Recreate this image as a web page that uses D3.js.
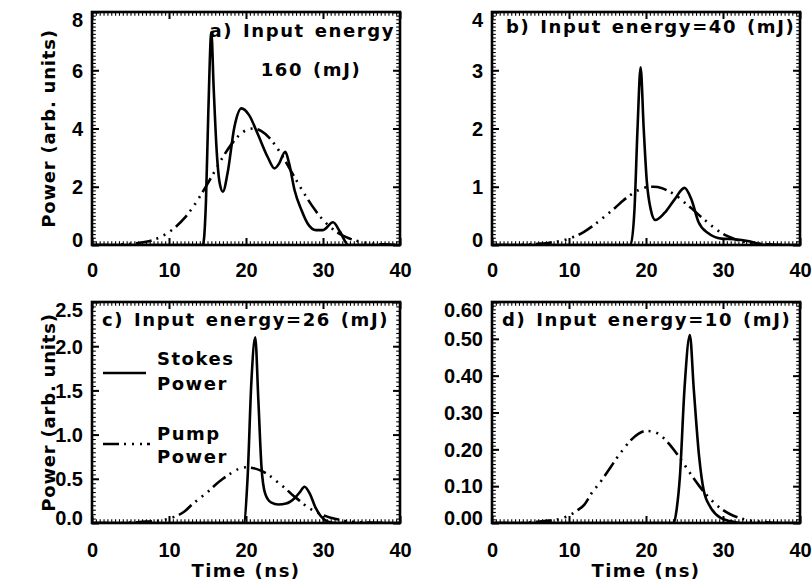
<!DOCTYPE html>
<html>
<head>
<meta charset="utf-8">
<script src="https://cdn.jsdelivr.net/npm/d3@7/dist/d3.min.js"></script>
<style>
  html, body { margin: 0; padding: 0; background: #fff; }
  svg { display: block; }
  text { font-family: "DejaVu Sans", sans-serif; font-weight: bold; fill: #000; }
</style>
</head>
<body>
<svg id="chart" width="812" height="588"></svg>
<script>
// ---------------- DATA ----------------
const xTicks = [0, 10, 20, 30, 40];
const xTickLabels = ["0", "10", "20", "30", "40"];

const yTicksA = [0, 2, 4, 6, 8];
const yTickLabelsA = ["0", "2", "4", "6", "8"];
const yTicksB = [0, 1, 2, 3, 4];
const yTickLabelsB = ["0", "1", "2", "3", "4"];
const yTicksC = [0, 0.5, 1.0, 1.5, 2.0, 2.5];
const yTickLabelsC = ["0.0", "0.5", "1.0", "1.5", "2.0", "2.5"];
const yTicksD = [0, 0.1, 0.2, 0.3, 0.4, 0.5, 0.6];
const yTickLabelsD = ["0.00", "0.10", "0.20", "0.30", "0.40", "0.50", "0.60"];

// pump pulse sampled every 1 ns (0..40)
const pumpTime = [0,1,2,3,4,5,6,7,8,9,10,11,12,13,14,15,16,17,18,19,20,21,22,23,24,25,26,27,28,29,30,31,32,33,34,35,36,37,38,39,40];
const pumpA = [0,0,0,0,0.02,0.04,0.07,0.11,0.18,0.29,0.44,0.65,0.92,1.26,1.66,2.10,2.56,3.02,3.42,3.74,3.94,4.00,3.91,3.69,3.35,2.93,2.47,2.01,1.58,1.19,0.86,0.61,0.41,0.27,0.17,0.10,0.06,0.03,0.02,0.01,0];
const pumpB = [0,0,0,0,0.005,0.01,0.02,0.03,0.05,0.07,0.11,0.16,0.23,0.32,0.42,0.53,0.64,0.76,0.86,0.94,0.99,1.00,0.98,0.92,0.84,0.73,0.62,0.50,0.39,0.28,0.19,0.13,0.08,0.05,0.03,0.02,0.01,0.005,0.002,0,0];
const pumpC = [0,0,0,0,0,0.005,0.009,0.016,0.02,0.03,0.05,0.08,0.13,0.21,0.28,0.35,0.43,0.50,0.56,0.61,0.63,0.62,0.59,0.54,0.47,0.40,0.32,0.25,0.18,0.13,0.09,0.06,0.04,0.02,0.013,0.007,0.004,0.002,0,0,0];
const pumpD = [0,0,0,0,0,0.002,0.0035,0.006,0.0075,0.0125,0.02,0.033,0.05,0.083,0.109,0.139,0.17,0.199,0.224,0.242,0.25,0.248,0.236,0.215,0.188,0.158,0.127,0.098,0.073,0.052,0.035,0.023,0.0145,0.009,0.005,0.003,0.0015,0,0,0,0];

// Stokes output (time in ns, power)
const stokesTimeA = [0,14.4,14.8,15.1,15.5,15.8,16.2,16.6,17.0,17.6,18.5,19.4,20.4,21.5,22.8,23.7,24.3,25.1,25.6,26.3,27.2,28.0,29.1,30.0,31.3,32.2,33.3,40];
const stokesA     = [0,0,1.5,4.5,7.3,5.4,3.2,2.1,1.83,2.46,4.06,4.69,4.46,3.83,3.03,2.63,2.8,3.2,2.8,1.89,1.2,0.74,0.51,0.51,0.78,0.46,0,0];
const stokesTimeB = [0,18.0,18.5,18.9,19.3,19.7,20.1,20.6,21.2,22.4,23.7,25.0,25.9,26.8,28.1,29.8,31.5,33.2,35.0,35.8,40];
const stokesB     = [0,0,0.6,2.0,3.05,2.0,1.1,0.62,0.43,0.55,0.78,0.98,0.78,0.40,0.2,0.11,0.1,0.07,0.01,0,0];
const stokesTimeC = [0,19.7,20.2,20.7,21.2,21.6,22.0,22.5,23.3,24.2,25.2,26.3,27.0,27.6,28.3,29.0,29.7,30.5,31.5,40];
const stokesC     = [0,0,0.5,1.6,2.1,1.4,0.65,0.33,0.23,0.21,0.22,0.28,0.35,0.41,0.33,0.18,0.08,0.02,0,0];
const stokesTimeD = [0,23.6,24.0,24.4,25.0,25.7,26.2,26.9,27.5,28.4,29.7,31.4,32.2,40];
const stokesD     = [0,0,0.04,0.125,0.365,0.51,0.365,0.18,0.088,0.042,0.014,0.003,0,0];

const titleA1 = "a) Input energy";
const titleA2 = "160 (mJ)";
const titleB = "b) Input energy=40 (mJ)";
const titleC = "c) Input energy=26 (mJ)";
const titleD = "d) Input energy=10 (mJ)";
const yTitle = "Power (arb. units)";
const xTitle = "Time (ns)";
const legendLabels = [["Stokes", "Power"], ["Pump", "Power"]];

// ---------------- LAYOUT ----------------
const panels = [
  {x0: 92,  x1: 400, y0: 12,  y1: 245, yMax: 8,   yTicks: yTicksA, yLabels: yTickLabelsA, minor: 0.125, pump: pumpA, st: stokesTimeA, sv: stokesA, xLabelPad: 18, yTitle: true},
  {x0: 492, x1: 800, y0: 12,  y1: 245, yMax: 4,   yTicks: yTicksB, yLabels: yTickLabelsB, minor: 0.0625, pump: pumpB, st: stokesTimeB, sv: stokesB, xLabelPad: 18},
  {x0: 92,  x1: 400, y0: 302, y1: 523, yMax: 2.5, yTicks: yTicksC, yLabels: yTickLabelsC, minor: 0.05, pump: pumpC, st: stokesTimeC, sv: stokesC, xLabelPad: 20, yTitle: true, xTitle: true, legend: true},
  {x0: 492, x1: 800, y0: 302, y1: 523, yMax: 0.6, yTicks: yTicksD, yLabels: yTickLabelsD, minor: 0.01, pump: pumpD, st: stokesTimeD, sv: stokesD, xLabelPad: 20, xTitle: true}
];

const svg = d3.select("#chart");
const pumpDash = "16,5,2,6,2,6,2,5";
const LW = 2.6;
const tickFont = "'Liberation Sans', Arial, sans-serif";

panels.forEach((p, i) => {
  const x = d3.scaleLinear().domain([0, 40]).range([p.x0, p.x1]);
  const y = d3.scaleLinear().domain([0, p.yMax]).range([p.y1, p.y0]);
  const g = svg.append("g");

  const clipId = "clip" + i;
  svg.append("clipPath").attr("id", clipId)
    .append("rect").attr("x", p.x0).attr("y", p.y0 - 2).attr("width", p.x1 - p.x0).attr("height", p.y1 - p.y0 + 2);

  // minor ticks
  const xMinor = d3.range(0, 40.001, 0.5);
  const yMinor = d3.range(0, p.yMax * 1.0001, p.minor);
  const minorStyle = sel => { sel.select(".domain").remove(); sel.selectAll("line").attr("stroke", "#000").attr("stroke-width", 1.1); };
  g.append("g").attr("transform", `translate(0,${p.y1})`)
    .call(d3.axisBottom(x).tickValues(xMinor).tickSize(-3.8).tickFormat("")).call(minorStyle);
  g.append("g").attr("transform", `translate(0,${p.y0})`)
    .call(d3.axisTop(x).tickValues(xMinor).tickSize(-3.8).tickFormat("")).call(minorStyle);
  g.append("g").attr("transform", `translate(${p.x0},0)`)
    .call(d3.axisLeft(y).tickValues(yMinor).tickSize(-3.8).tickFormat("")).call(minorStyle);
  g.append("g").attr("transform", `translate(${p.x1},0)`)
    .call(d3.axisRight(y).tickValues(yMinor).tickSize(-3.8).tickFormat("")).call(minorStyle);

  // major ticks
  const majorStyle = sel => { sel.select(".domain").remove(); sel.selectAll("line").attr("stroke", "#000").attr("stroke-width", 2); };
  const xb = g.append("g").attr("transform", `translate(0,${p.y1})`)
    .call(d3.axisBottom(x).tickValues(xTicks).tickSize(-7).tickPadding(p.xLabelPad)
      .tickFormat((d, k) => xTickLabels[k])).call(majorStyle);
  xb.selectAll("text").attr("font-size", 20).attr("font-family", null).style("font-family", tickFont).style("font-weight", "bold");
  g.append("g").attr("transform", `translate(0,${p.y0})`)
    .call(d3.axisTop(x).tickValues(xTicks).tickSize(-7).tickFormat("")).call(majorStyle);
  const yl = g.append("g").attr("transform", `translate(${p.x0},0)`)
    .call(d3.axisLeft(y).tickValues(p.yTicks).tickSize(-7).tickPadding(9)
      .tickFormat((d, k) => p.yLabels[k])).call(majorStyle);
  yl.selectAll("text").attr("font-size", 20).attr("font-family", null).style("font-family", tickFont).style("font-weight", "bold");
  const n = p.yTicks.length;
  yl.selectAll("text").attr("dy", (d, k) => k === 0 ? "0.06em" : (k === n - 1 ? "0.74em" : "0.34em"));
  g.append("g").attr("transform", `translate(${p.x1},0)`)
    .call(d3.axisRight(y).tickValues(p.yTicks).tickSize(-7).tickFormat("")).call(majorStyle);

  // curves
  const line = d3.line().x(d => x(d[0])).y(d => y(d[1])).curve(d3.curveMonotoneX);
  const pumpPts = pumpTime.map((t, k) => [t, p.pump[k]]);
  const stokesPts = p.st.map((t, k) => [t, p.sv[k]]);
  const cg = g.append("g").attr("clip-path", `url(#${clipId})`);
  cg.append("path").attr("d", line(pumpPts)).attr("fill", "none").attr("stroke", "#000")
    .attr("stroke-width", LW).attr("stroke-dasharray", pumpDash);
  cg.append("path").attr("d", line(stokesPts)).attr("fill", "none").attr("stroke", "#000")
    .attr("stroke-width", LW).attr("stroke-linejoin", "round");

  // frame
  g.append("rect").attr("x", p.x0).attr("y", p.y0).attr("width", p.x1 - p.x0).attr("height", p.y1 - p.y0)
    .attr("fill", "none").attr("stroke", "#000").attr("stroke-width", 2.6);

  // axis titles
  if (p.yTitle) {
    g.append("text").attr("transform", `translate(55,${(p.y0 + p.y1) / 2}) rotate(-90)`)
      .attr("text-anchor", "middle").attr("font-size", 18).style("letter-spacing", "0.8px").text(yTitle);
  }
  if (p.xTitle) {
    g.append("text").attr("x", (p.x0 + p.x1) / 2).attr("y", 577)
      .attr("text-anchor", "middle").attr("font-size", 18).style("letter-spacing", "1.5px").text(xTitle);
  }
  if (p.legend) {
    const ly1 = 373, ly2 = 444;
    g.append("line").attr("x1", 103).attr("x2", 146).attr("y1", ly1).attr("y2", ly1)
      .attr("stroke", "#000").attr("stroke-width", LW);
    g.append("line").attr("x1", 103).attr("x2", 150).attr("y1", ly2).attr("y2", ly2)
      .attr("stroke", "#000").attr("stroke-width", LW).attr("stroke-dasharray", pumpDash);
    const lt = [[365, 390], [440, 463]];
    legendLabels.forEach((lab, k) => {
      lab.forEach((s, j) => {
        g.append("text").attr("x", 157).attr("y", lt[k][j]).attr("font-size", 18)
          .style("letter-spacing", "1.5px").text(s);
      });
    });
  }
});

// panel annotations
const ann = svg.append("g").attr("font-size", 18).style("letter-spacing", "1.6px").style("word-spacing", "2px");
ann.append("text").attr("x", 395).attr("y", 37).attr("text-anchor", "end").text(titleA1);
ann.append("text").attr("x", 311).attr("y", 76).attr("text-anchor", "middle").text(titleA2);
ann.append("text").attr("x", 506).attr("y", 33).text(titleB);
ann.append("text").attr("x", 102).attr("y", 326).text(titleC);
ann.append("text").attr("x", 502).attr("y", 326).text(titleD);
</script>
</body>
</html>
